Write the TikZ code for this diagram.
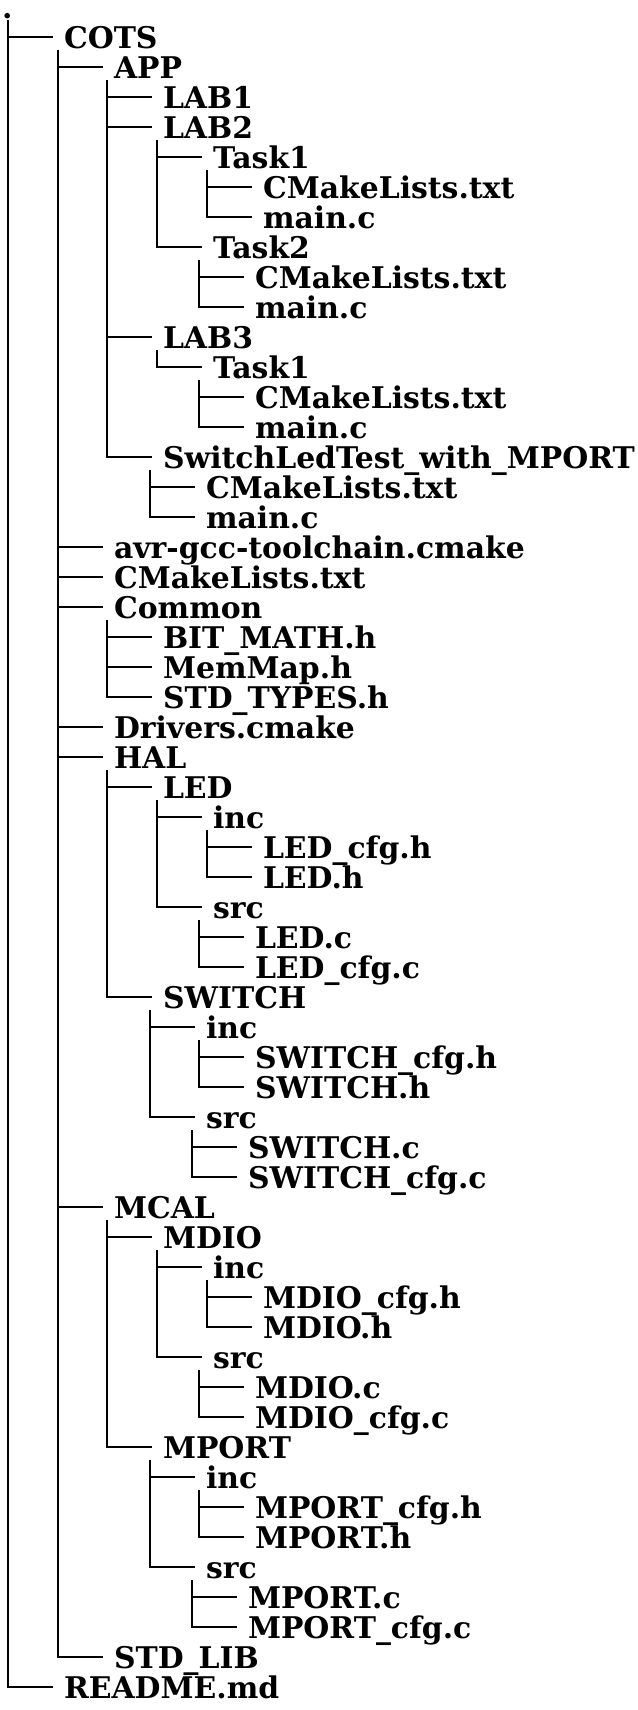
\documentclass[tikz,border=0pt]{standalone}
\usepackage{fontspec}
\setmainfont{DejaVu Serif}
\begin{document}
\begin{tikzpicture}[x=1pt,y=-1pt,
  item node/.style={anchor=west,inner sep=0pt,outer xsep=11pt,text height=22.6pt,text depth=0pt,font=\bfseries\fontsize{29.85}{30}\selectfont},
  every edge/.style={draw,line width=2.7pt,to path={|- (\tikztotarget)}}]

  \useasboundingbox (0,0) rectangle (637,1710);

  \node[item node,anchor=base west,outer xsep=0pt,text height=6pt] (root) at (2,19) {.};
  \node[item node] (cots) at (53,37) {COTS};
  \node[item node] (app) at (103,67) {APP};
  \node[item node] (lab1) at (152,97) {LAB1};
  \node[item node] (lab2) at (152,127) {LAB2};
  \node[item node] (lab2t1) at (202,157) {Task1};
  \node[item node] (lab2t1cm) at (252,187) {CMakeLists.txt};
  \node[item node] (lab2t1m) at (252,217) {main.c};
  \node[item node] (lab2t2) at (202,247) {Task2};
  \node[item node] (lab2t2cm) at (244,277) {CMakeLists.txt};
  \node[item node] (lab2t2m) at (244,307) {main.c};
  \node[item node] (lab3) at (152,337) {LAB3};
  \node[item node] (lab3t1) at (202,367) {Task1};
  \node[item node] (lab3t1cm) at (244,397) {CMakeLists.txt};
  \node[item node] (lab3t1m) at (244,427) {main.c};
  \node[item node] (swled) at (152,457) {SwitchLedTest\_with\_MPORT};
  \node[item node] (swledcm) at (195,487) {CMakeLists.txt};
  \node[item node] (swledm) at (195,517) {main.c};
  \node[item node] (avr) at (103,547) {avr-gcc-toolchain.cmake};
  \node[item node] (cmake) at (103,577) {CMakeLists.txt};
  \node[item node] (common) at (103,607) {Common};
  \node[item node] (bitmath) at (152,637) {BIT\_MATH.h};
  \node[item node] (memmap) at (152,667) {MemMap.h};
  \node[item node] (stdtypes) at (152,697) {STD\_TYPES.h};
  \node[item node] (drivers) at (103,727) {Drivers.cmake};
  \node[item node] (hal) at (103,757) {HAL};
  \node[item node] (led) at (152,787) {LED};
  \node[item node] (ledinc) at (202,817) {inc};
  \node[item node] (ledcfgh) at (252,847) {LED\_cfg.h};
  \node[item node] (ledh) at (252,877) {LED.h};
  \node[item node] (ledsrc) at (202,907) {src};
  \node[item node] (ledc) at (244,937) {LED.c};
  \node[item node] (ledcfgc) at (244,967) {LED\_cfg.c};
  \node[item node] (sw) at (152,997) {SWITCH};
  \node[item node] (swinc) at (195,1027) {inc};
  \node[item node] (swcfgh) at (244,1057) {SWITCH\_cfg.h};
  \node[item node] (swh) at (244,1087) {SWITCH.h};
  \node[item node] (swsrc) at (195,1117) {src};
  \node[item node] (swc) at (237,1147) {SWITCH.c};
  \node[item node] (swcfgc) at (237,1177) {SWITCH\_cfg.c};
  \node[item node] (mcal) at (103,1207) {MCAL};
  \node[item node] (mdio) at (152,1237) {MDIO};
  \node[item node] (mdioinc) at (202,1267) {inc};
  \node[item node] (mdiocfgh) at (252,1297) {MDIO\_cfg.h};
  \node[item node] (mdioh) at (252,1327) {MDIO.h};
  \node[item node] (mdiosrc) at (202,1357) {src};
  \node[item node] (mdioc) at (244,1387) {MDIO.c};
  \node[item node] (mdiocfgc) at (244,1417) {MDIO\_cfg.c};
  \node[item node] (mport) at (152,1447) {MPORT};
  \node[item node] (mportinc) at (195,1477) {inc};
  \node[item node] (mportcfgh) at (244,1507) {MPORT\_cfg.h};
  \node[item node] (mporth) at (244,1537) {MPORT.h};
  \node[item node] (mportsrc) at (195,1567) {src};
  \node[item node] (mportc) at (237,1597) {MPORT.c};
  \node[item node] (mportcfgc) at (237,1627) {MPORT\_cfg.c};
  \node[item node] (stdlib) at (103,1657) {STD\_LIB};
  \node[item node] (readme) at (53,1687) {README.md};

  % stems, one below each folder
  \coordinate (s-root) at (8,20);
  \coordinate (s-cots) at (58,50);
  \coordinate (s-app) at (107,80);
  \coordinate (s-lab2) at (157,140);
  \coordinate (s-lab2t1) at (207,170);
  \coordinate (s-lab2t2) at (199,260);
  \coordinate (s-lab3) at (157,350);
  \coordinate (s-lab3t1) at (199,380);
  \coordinate (s-swled) at (150,470);
  \coordinate (s-common) at (107,620);
  \coordinate (s-hal) at (107,770);
  \coordinate (s-led) at (157,800);
  \coordinate (s-ledinc) at (207,830);
  \coordinate (s-ledsrc) at (199,920);
  \coordinate (s-sw) at (150,1010);
  \coordinate (s-swinc) at (199,1040);
  \coordinate (s-swsrc) at (192,1130);
  \coordinate (s-mcal) at (107,1220);
  \coordinate (s-mdio) at (157,1250);
  \coordinate (s-mdioinc) at (207,1280);
  \coordinate (s-mdiosrc) at (199,1370);
  \coordinate (s-mport) at (150,1460);
  \coordinate (s-mportinc) at (199,1490);
  \coordinate (s-mportsrc) at (192,1580);

  \path
    (s-root) edge (cots) edge (readme)
    (s-cots) edge (app) edge (avr) edge (cmake) edge (common)
             edge (drivers) edge (hal) edge (mcal) edge (stdlib)
    (s-app) edge (lab1) edge (lab2) edge (lab3) edge (swled)
    (s-lab2) edge (lab2t1) edge (lab2t2)
    (s-lab2t1) edge (lab2t1cm) edge (lab2t1m)
    (s-lab2t2) edge (lab2t2cm) edge (lab2t2m)
    (s-lab3) edge (lab3t1)
    (s-lab3t1) edge (lab3t1cm) edge (lab3t1m)
    (s-swled) edge (swledcm) edge (swledm)
    (s-common) edge (bitmath) edge (memmap) edge (stdtypes)
    (s-hal) edge (led) edge (sw)
    (s-led) edge (ledinc) edge (ledsrc)
    (s-ledinc) edge (ledcfgh) edge (ledh)
    (s-ledsrc) edge (ledc) edge (ledcfgc)
    (s-sw) edge (swinc) edge (swsrc)
    (s-swinc) edge (swcfgh) edge (swh)
    (s-swsrc) edge (swc) edge (swcfgc)
    (s-mcal) edge (mdio) edge (mport)
    (s-mdio) edge (mdioinc) edge (mdiosrc)
    (s-mdioinc) edge (mdiocfgh) edge (mdioh)
    (s-mdiosrc) edge (mdioc) edge (mdiocfgc)
    (s-mport) edge (mportinc) edge (mportsrc)
    (s-mportinc) edge (mportcfgh) edge (mporth)
    (s-mportsrc) edge (mportc) edge (mportcfgc);
\end{tikzpicture}
\end{document}
